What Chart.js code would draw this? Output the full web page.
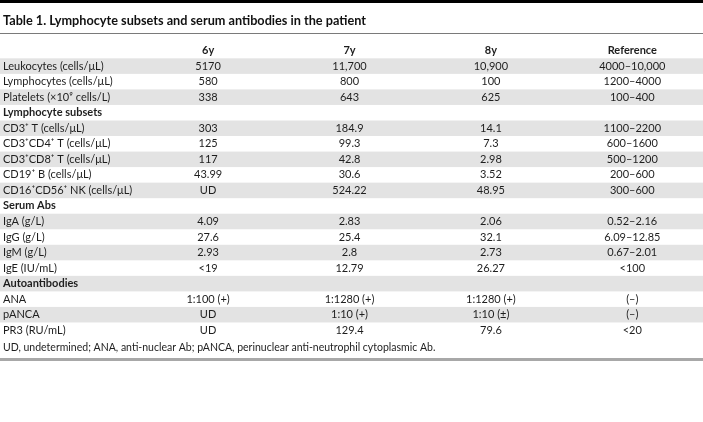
<!DOCTYPE html>
<html>
<head>
<meta charset="utf-8">
<script src="https://cdn.jsdelivr.net/npm/chart.js@4"></script>
<style>
    html, body { margin: 0; padding: 0; background: #ffffff; }
    #wrap { width: 703px; height: 422px; }
</style>
</head>
<body>
<div id="wrap"><canvas id="tableChart" width="703" height="422"></canvas></div>
<script>
// Table data
const titleText = 'Table 1. Lymphocyte subsets and serum antibodies in the patient';
const footnoteText = 'UD, undetermined; ANA, anti-nuclear Ab; pANCA, perinuclear anti-neutrophil cytoplasmic Ab.';

const columns = ['6y', '7y', '8y', 'Reference'];

const rowLabels = [
    'Leukocytes (cells/μL)',
    'Lymphocytes (cells/μL)',
    'Platelets (×10⁹ cells/L)',
    'Lymphocyte subsets',
    'CD3⁺ T (cells/μL)',
    'CD3⁺CD4⁺ T (cells/μL)',
    'CD3⁺CD8⁺ T (cells/μL)',
    'CD19⁺ B (cells/μL)',
    'CD16⁺CD56⁺ NK (cells/μL)',
    'Serum Abs',
    'IgA (g/L)',
    'IgG (g/L)',
    'IgM (g/L)',
    'IgE (IU/mL)',
    'Autoantibodies',
    'ANA',
    'pANCA',
    'PR3 (RU/mL)'
];

const sectionRows = ['Lymphocyte subsets', 'Serum Abs', 'Autoantibodies'];

const values6y = ['5170', '580', '338', '', '303', '125', '117', '43.99', 'UD', '',
    '4.09', '27.6', '2.93', '<19', '', '1:100 (+)', 'UD', 'UD'];
const values7y = ['11,700', '800', '643', '', '184.9', '99.3', '42.8', '30.6', '524.22', '',
    '2.83', '25.4', '2.8', '12.79', '', '1:1280 (+)', '1:10 (+)', '129.4'];
const values8y = ['10,900', '100', '625', '', '14.1', '7.3', '2.98', '3.52', '48.95', '',
    '2.06', '32.1', '2.73', '26.27', '', '1:1280 (+)', '1:10 (±)', '79.6'];
const referenceValues = ['4000–10,000', '1200–4000', '100–400', '', '1100–2200', '600–1600', '500–1200', '200–600', '300–600', '',
    '0.52–2.16', '6.09–12.85', '0.67–2.01', '<100', '', '(–)', '(–)', '<20'];

const columnValues = [values6y, values7y, values8y, referenceValues];

// Style
const FONT_FAMILY = 'Lato, "Noto Sans", sans-serif';
const TEXT_COLOR = '#1e1e1e';
const SHADE_COLOR = '#e3e3e3';

// Build one dataset per column, a point per filled cell
function buildDatasets() {
    return columns.map((col, c) => ({
        label: col,
        data: rowLabels
            .map((row, r) => ({ x: col, y: row, text: columnValues[c][r] }))
            .filter(p => p.text !== ''),
        pointRadius: 0,
        pointHoverRadius: 0
    }));
}

// Shaded bands behind every other row
const bandPlugin = {
    id: 'bands',
    beforeDraw(chart) {
        const { ctx, width } = chart;
        const y = chart.scales.y;
        const step = y.getPixelForValue(1) - y.getPixelForValue(0);
        ctx.save();
        ctx.fillStyle = SHADE_COLOR;
        rowLabels.forEach((row, i) => {
            if (i % 2 !== 0) return;
            const cy = y.getPixelForValue(i);
            ctx.fillRect(0, cy - step / 2, width, step);
        });
        ctx.restore();
    }
};

// Cell text, rules and footnote
const cellTextPlugin = {
    id: 'cellText',
    afterDatasetsDraw(chart) {
        const { ctx } = chart;
        ctx.save();
        ctx.font = `11px ${FONT_FAMILY}`;
        ctx.fillStyle = TEXT_COLOR;
        ctx.textAlign = 'center';
        ctx.textBaseline = 'middle';
        chart.data.datasets.forEach((ds, d) => {
            const meta = chart.getDatasetMeta(d);
            meta.data.forEach((pt, i) => {
                ctx.fillText(ds.data[i].text, pt.x, pt.y);
            });
        });
        ctx.restore();
    },
    afterDraw(chart) {
        const { ctx, width, chartArea } = chart;
        ctx.save();
        // top bar
        ctx.fillStyle = '#000000';
        ctx.fillRect(0, 0, width, 3);
        // rule under the title
        ctx.fillStyle = '#7a7a7a';
        ctx.fillRect(0, 33, width, 1);
        // footnote
        ctx.font = `10.5px ${FONT_FAMILY}`;
        ctx.fillStyle = TEXT_COLOR;
        ctx.textAlign = 'left';
        ctx.textBaseline = 'middle';
        ctx.fillText(footnoteText, 3, chartArea.bottom + 10);
        // bottom rule
        ctx.fillStyle = '#a8a8a8';
        ctx.fillRect(0, chartArea.bottom + 20, width, 3);
        ctx.restore();
    }
};

// Initialize chart
function initTableChart() {
    const ctx = document.getElementById('tableChart').getContext('2d');

    new Chart(ctx, {
        type: 'scatter',
        data: { datasets: buildDatasets() },
        options: {
            responsive: false,
            animation: false,
            events: [],
            layout: { padding: { top: 0, left: 3, right: 0, bottom: 84 } },
            plugins: {
                legend: { display: false },
                tooltip: { enabled: false },
                title: {
                    display: true,
                    text: titleText,
                    align: 'start',
                    color: '#111111',
                    font: { family: FONT_FAMILY, size: 12.7, weight: 'bold', lineHeight: 1.2 },
                    padding: { top: 13, bottom: 7.6 }
                }
            },
            scales: {
                x: {
                    type: 'category',
                    labels: columns,
                    position: 'top',
                    offset: true,
                    grid: { display: false, drawTicks: false },
                    border: { display: false },
                    ticks: {
                        autoSkip: false,
                        maxRotation: 0,
                        padding: 1,
                        color: TEXT_COLOR,
                        font: { family: FONT_FAMILY, size: 11, weight: 'bold' }
                    },
                    afterFit(scale) { scale.height = 22.5; }
                },
                y: {
                    type: 'category',
                    labels: rowLabels,
                    offset: true,
                    grid: { display: false, drawTicks: false },
                    border: { display: false },
                    ticks: {
                        autoSkip: false,
                        crossAlign: 'far',
                        padding: 0,
                        color: TEXT_COLOR,
                        font: (c) => ({
                            family: FONT_FAMILY,
                            size: 11,
                            weight: sectionRows.includes(rowLabels[c.index]) ? 'bold' : 'normal'
                        })
                    },
                    afterFit(scale) { scale.width = 134.4; }
                }
            }
        },
        plugins: [bandPlugin, cellTextPlugin]
    });
}

document.addEventListener('DOMContentLoaded', initTableChart);
</script>
</body>
</html>
